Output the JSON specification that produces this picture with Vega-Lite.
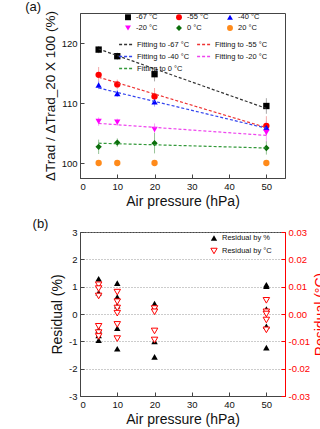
{
  "$schema": "https://vega.github.io/schema/vega-lite/v6.json",
  "padding": {"left": 24, "top": 0, "right": 0, "bottom": 0},
  "spacing": 8,
  "config": {
    "font": "Liberation Sans",
    "view": {"stroke": "#444", "strokeWidth": 1},
    "axis": {"grid": false, "domainColor": "#444", "tickColor": "#444", "tickSize": -4, "labelPadding": 7, "labelFontSize": 9.5, "labelColor": "#111", "titleFontSize": 14, "titleFontWeight": "normal", "titleColor": "#111", "titlePadding": 4},
    "title": {"fontSize": 13, "fontWeight": "normal", "anchor": "start", "frame": "bounds", "color": "#111"}
  },
  "resolve": {
    "scale": {"color": "independent", "shape": "independent", "stroke": "independent", "fill": "independent"},
    "legend": {"color": "independent", "shape": "independent", "stroke": "independent", "fill": "independent"}
  },
  "vconcat": [
    {
      "title": {"text": "(a)", "dy": 8, "dx": -18},
      "width": 205,
      "height": 165,
      "layer": [
        {
          "data": {"values": [
            {"p": 5, "series": "-67 °C", "y": 118.9, "lo": 118.3, "hi": 119.5},
            {"p": 10, "series": "-67 °C", "y": 117.8, "lo": 117.2, "hi": 118.4},
            {"p": 20, "series": "-67 °C", "y": 114.8, "lo": 113.6, "hi": 116.0},
            {"p": 50, "series": "-67 °C", "y": 109.5, "lo": 108.2, "hi": 110.8},
            {"p": 5, "series": "-55 °C", "y": 114.7, "lo": 113.4, "hi": 116.0},
            {"p": 10, "series": "-55 °C", "y": 113.1, "lo": 112.3, "hi": 113.9},
            {"p": 20, "series": "-55 °C", "y": 111.1, "lo": 109.7, "hi": 112.5},
            {"p": 50, "series": "-55 °C", "y": 106.2, "lo": 104.6, "hi": 107.8},
            {"p": 5, "series": "-40 °C", "y": 113.0, "lo": 112.3, "hi": 113.7},
            {"p": 10, "series": "-40 °C", "y": 111.6, "lo": 111.0, "hi": 112.2},
            {"p": 20, "series": "-40 °C", "y": 110.2, "lo": 109.4, "hi": 111.0},
            {"p": 50, "series": "-40 °C", "y": 105.9, "lo": 104.9, "hi": 106.9},
            {"p": 5, "series": "-20 °C", "y": 106.9, "lo": 106.2, "hi": 107.6},
            {"p": 10, "series": "-20 °C", "y": 106.8, "lo": 106.2, "hi": 107.4},
            {"p": 20, "series": "-20 °C", "y": 105.6, "lo": 104.6, "hi": 106.6},
            {"p": 50, "series": "-20 °C", "y": 105.1, "lo": 103.4, "hi": 106.8},
            {"p": 5, "series": "0 °C", "y": 102.7, "lo": 101.5, "hi": 103.9},
            {"p": 10, "series": "0 °C", "y": 103.4, "lo": 102.7, "hi": 104.1},
            {"p": 20, "series": "0 °C", "y": 103.3, "lo": 101.6, "hi": 105.0},
            {"p": 50, "series": "0 °C", "y": 102.5, "lo": 101.4, "hi": 103.6},
            {"p": 5, "series": "20 °C", "y": 100, "lo": 100, "hi": 100},
            {"p": 10, "series": "20 °C", "y": 100, "lo": 100, "hi": 100},
            {"p": 20, "series": "20 °C", "y": 100, "lo": 100, "hi": 100},
            {"p": 50, "series": "20 °C", "y": 100, "lo": 100, "hi": 100}
          ]},
          "layer": [
            {
              "mark": {"type": "rule", "strokeWidth": 1},
              "encoding": {
                "x": {"field": "p", "type": "quantitative"},
                "y": {"field": "lo", "type": "quantitative"},
                "y2": {"field": "hi"},
                "color": {"field": "series", "type": "nominal", "legend": null,
                  "scale": {"domain": ["-67 °C", "-55 °C", "-40 °C", "-20 °C", "0 °C", "20 °C"], "range": ["#a8a8a8", "#f4a8a8", "#a8a8f4", "#f4a8f4", "#98c498", "#ffcc99"]}}
              }
            },
            {
              "mark": {"type": "point", "filled": true, "size": 40, "opacity": 1},
              "encoding": {
                "x": {"field": "p", "type": "quantitative"},
                "y": {"field": "y", "type": "quantitative"},
                "color": {"field": "series", "type": "nominal",
                  "scale": {"domain": ["-67 °C", "-55 °C", "-40 °C", "-20 °C", "0 °C", "20 °C"], "range": ["#000000", "#ff0000", "#0000ff", "#ff00ff", "#0b6e0b", "#ff8a1a"]},
                  "legend": {"title": null, "orient": "none", "legendX": 44, "legendY": 0, "direction": "horizontal", "columns": 3, "columnPadding": 17, "rowPadding": 3, "labelFontSize": 7.5, "symbolSize": 35, "labelOffset": 4, "labelColor": "#111"}},
                "shape": {"field": "series", "type": "nominal",
                  "scale": {"domain": ["-67 °C", "-55 °C", "-40 °C", "-20 °C", "0 °C", "20 °C"], "range": ["square", "circle", "triangle-up", "triangle-down", "diamond", "circle"]},
                  "legend": {"title": null, "orient": "none", "legendX": 44, "legendY": 0, "direction": "horizontal", "columns": 3, "columnPadding": 17, "rowPadding": 3, "labelFontSize": 7.5, "symbolSize": 35, "labelOffset": 4, "labelColor": "#111"}}
              }
            }
          ],
          "resolve": {"scale": {"color": "independent"}, "legend": {"color": "independent", "shape": "independent"}}
        },
        {
          "data": {"values": [
            {"p": 5, "fit": "Fitting to -67 °C", "y": 119.0},
            {"p": 50, "fit": "Fitting to -67 °C", "y": 109.1},
            {"p": 5, "fit": "Fitting to -55 °C", "y": 114.3},
            {"p": 50, "fit": "Fitting to -55 °C", "y": 105.9},
            {"p": 5, "fit": "Fitting to -40 °C", "y": 112.5},
            {"p": 50, "fit": "Fitting to -40 °C", "y": 105.8},
            {"p": 5, "fit": "Fitting to -20 °C", "y": 106.6},
            {"p": 50, "fit": "Fitting to -20 °C", "y": 104.6},
            {"p": 5, "fit": "Fitting to    0 °C", "y": 103.3},
            {"p": 50, "fit": "Fitting to    0 °C", "y": 102.5}
          ]},
          "mark": {"type": "line", "strokeDash": [3, 2], "strokeWidth": 1.2},
          "encoding": {
            "x": {"field": "p", "type": "quantitative", "scale": {"domain": [0, 55], "nice": false},
              "axis": {"title": "Air pressure (hPa)", "values": [0, 10, 20, 30, 40, 50]}},
            "y": {"field": "y", "type": "quantitative", "scale": {"domain": [97.5, 125], "nice": false, "zero": false},
              "axis": {"title": "ΔTrad / ΔTrad_20 X 100 (%)", "titleFontSize": 13.5, "values": [100, 105, 110, 115, 120, 125]}},
            "stroke": {"field": "fit", "type": "nominal",
              "scale": {"domain": ["Fitting to -67 °C", "Fitting to -55 °C", "Fitting to -40 °C", "Fitting to -20 °C", "Fitting to    0 °C"], "range": ["#333333", "#ee3333", "#3344ee", "#ee44ee", "#33993a"]},
              "legend": {"title": null, "orient": "none", "legendX": 38, "legendY": 23, "direction": "horizontal", "columns": 2, "columnPadding": 4, "rowPadding": 0, "labelFontSize": 7.5, "symbolType": "stroke", "symbolDash": [3, 2], "symbolStrokeWidth": 1.3, "symbolSize": 220, "labelOffset": 2, "labelColor": "#111"}}
          }
        }
      ]
    },
    {
      "title": {"text": "(b)", "dy": 8, "dx": -18},
      "width": 205,
      "height": 164,
      "data": {"values": [
        {"p": 5, "kind": "Residual by %", "v": 1.29},
        {"p": 5, "kind": "Residual by %", "v": 0.78},
        {"p": 5, "kind": "Residual by %", "v": -0.58},
        {"p": 5, "kind": "Residual by %", "v": -0.78},
        {"p": 5, "kind": "Residual by %", "v": -0.96},
        {"p": 10, "kind": "Residual by %", "v": 1.13},
        {"p": 10, "kind": "Residual by %", "v": 0.62},
        {"p": 10, "kind": "Residual by %", "v": 0.3},
        {"p": 10, "kind": "Residual by %", "v": -0.52},
        {"p": 10, "kind": "Residual by %", "v": -1.27},
        {"p": 20, "kind": "Residual by %", "v": 0.38},
        {"p": 20, "kind": "Residual by %", "v": 0.25},
        {"p": 20, "kind": "Residual by %", "v": -1.0},
        {"p": 20, "kind": "Residual by %", "v": -1.57},
        {"p": 50, "kind": "Residual by %", "v": 1.07},
        {"p": 50, "kind": "Residual by %", "v": 1.02},
        {"p": 50, "kind": "Residual by %", "v": 0.18},
        {"p": 50, "kind": "Residual by %", "v": -0.45},
        {"p": 50, "kind": "Residual by %", "v": -1.23},
        {"p": 5, "kind": "Residual by °C", "v": 0.0107},
        {"p": 5, "kind": "Residual by °C", "v": 0.0093},
        {"p": 5, "kind": "Residual by °C", "v": 0.0066},
        {"p": 5, "kind": "Residual by °C", "v": -0.0045},
        {"p": 5, "kind": "Residual by °C", "v": -0.0068},
        {"p": 5, "kind": "Residual by °C", "v": -0.0082},
        {"p": 10, "kind": "Residual by °C", "v": 0.008},
        {"p": 10, "kind": "Residual by °C", "v": 0.0045},
        {"p": 10, "kind": "Residual by °C", "v": 0.0022},
        {"p": 10, "kind": "Residual by °C", "v": 0.0003},
        {"p": 10, "kind": "Residual by °C", "v": -0.0038},
        {"p": 10, "kind": "Residual by °C", "v": -0.009},
        {"p": 20, "kind": "Residual by °C", "v": 0.002},
        {"p": 20, "kind": "Residual by °C", "v": 0.0008},
        {"p": 20, "kind": "Residual by °C", "v": -0.0062},
        {"p": 20, "kind": "Residual by °C", "v": -0.0095},
        {"p": 50, "kind": "Residual by °C", "v": 0.005},
        {"p": 50, "kind": "Residual by °C", "v": 0.0008},
        {"p": 50, "kind": "Residual by °C", "v": 0.0},
        {"p": 50, "kind": "Residual by °C", "v": -0.0022},
        {"p": 50, "kind": "Residual by °C", "v": -0.0058}
      ]},
      "layer": [
        {
          "transform": [{"filter": "datum.kind === 'Residual by %'"}],
          "mark": {"type": "point", "shape": "triangle-up", "filled": true, "size": 42, "opacity": 1},
          "encoding": {
            "x": {"field": "p", "type": "quantitative", "scale": {"domain": [0, 55], "nice": false},
              "axis": {"title": "Air pressure (hPa)", "values": [0, 10, 20, 30, 40, 50]}},
            "y": {"field": "v", "type": "quantitative", "scale": {"domain": [-3, 3], "nice": false},
              "axis": {"title": "Residual (%)", "values": [-3, -2, -1, 0, 1, 2, 3], "grid": true, "gridDash": [1, 2], "gridColor": "#999", "labelExpr": "replace(datum.label, '\u2212', '-')"}},
            "color": {"field": "kind", "type": "nominal", "scale": {"domain": ["Residual by %"], "range": ["#000000"]},
              "legend": {"title": null, "orient": "none", "legendX": 130, "legendY": 2, "labelFontSize": 7.5, "symbolSize": 40, "labelOffset": 4, "labelColor": "#111"}}
          }
        },
        {
          "transform": [{"filter": "datum.kind === 'Residual by °C'"}],
          "mark": {"type": "point", "shape": "triangle-down", "filled": false, "fill": "#ffffff", "fillOpacity": 1, "size": 42, "strokeWidth": 1, "opacity": 1},
          "encoding": {
            "x": {"field": "p", "type": "quantitative"},
            "y": {"field": "v", "type": "quantitative", "scale": {"domain": [-0.03, 0.03], "nice": false},
              "axis": {"orient": "right", "title": "Residual (°C)", "titleAngle": 270, "titleBaseline": "top", "values": [-0.03, -0.02, -0.01, 0, 0.01, 0.02, 0.03], "format": ".2f", "labelExpr": "replace(datum.label, '\u2212', '-')", "labelColor": "#ff0000", "titleColor": "#ff0000", "domainColor": "#ff0000", "tickColor": "#ff0000"}},
            "color": {"field": "kind", "type": "nominal", "scale": {"domain": ["Residual by °C"], "range": ["#ff0000"]},
              "legend": {"title": null, "orient": "none", "legendX": 130, "legendY": 15, "labelFontSize": 7.5, "symbolSize": 40, "labelOffset": 4, "labelColor": "#111", "symbolFillColor": "#ffffff", "symbolStrokeWidth": 1}}
          }
        }
      ],
      "resolve": {"scale": {"y": "independent", "color": "independent"}, "legend": {"color": "independent"}}
    }
  ]
}
